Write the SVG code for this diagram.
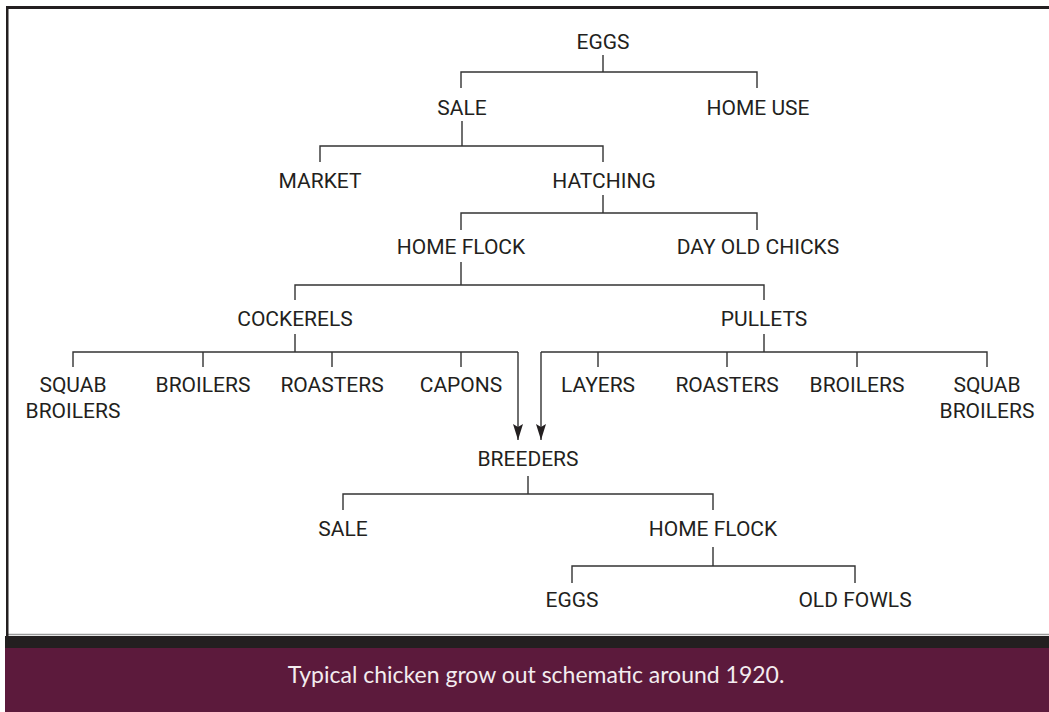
<svg xmlns="http://www.w3.org/2000/svg" width="1049" height="712" viewBox="0 0 1049 712">
<style>
.lbl{font-family:Roboto,"Liberation Sans",Arial,sans-serif;font-size:21px;fill:#231f20;text-anchor:middle}
.ln{stroke:#333;stroke-width:1.4;fill:none}
.cap{font-family:Lato,"Open Sans",sans-serif;font-size:23px;fill:#f3ecef;text-anchor:middle}
</style>
<defs>
<marker id="ah" markerWidth="16" markerHeight="10" refX="16" refY="5" orient="auto" markerUnits="userSpaceOnUse" viewBox="0 0 16 10">
<path d="M0,0 L3,5 L0,10 L16,5 Z" fill="#231f20"/>
</marker>
</defs>
<rect x="0" y="0" width="1049" height="712" fill="#fff"/>
<g id="frame">
<rect x="5" y="636" width="1044" height="12" fill="#231f20"/>
<rect x="5" y="648" width="1044" height="64" fill="#5c1a3c"/>
<line x1="8" y1="634.5" x2="1049" y2="634.5" stroke="#9a9a9a" stroke-width="1.5"/>
<rect x="6" y="6" width="1043" height="3" fill="#231f20"/>
<rect x="6" y="6" width="2.5" height="638" fill="#231f20"/>
</g>
<g id="connectors">
<path class="ln" d="M603,55 V72 M461,88 V72 H757 V88"/>
<path class="ln" d="M462,121 V146 M320,162 V146 H603 V162"/>
<path class="ln" d="M603,195 V213 M461,230 V213 H757 V230"/>
<path class="ln" d="M461,262 V285 M295,300 V285 H764 V300"/>
<path class="ln" d="M295,334 V352 M73,367 V352 H518 M203,352 V367 M332,352 V367 M461,352 V367"/>
<path class="ln" d="M518,352 V440" marker-end="url(#ah)"/>
<path class="ln" d="M764,334 V352 M987,367 V352 H541 M598,352 V367 M727,352 V367 M857,352 V367"/>
<path class="ln" d="M541,352 V440" marker-end="url(#ah)"/>
<path class="ln" d="M528,476 V494 M343,510 V494 H713 V510"/>
<path class="ln" d="M713,547 V566 M572,583 V566 H855 V583"/>
</g>
<g id="n-eggs"><text class="lbl" x="603" y="49">EGGS</text></g>
<g id="n-sale"><text class="lbl" x="462" y="115">SALE</text></g>
<g id="n-homeuse"><text class="lbl" x="758" y="115">HOME USE</text></g>
<g id="n-market"><text class="lbl" x="320" y="188">MARKET</text></g>
<g id="n-hatching"><text class="lbl" x="604" y="188">HATCHING</text></g>
<g id="n-homeflock"><text class="lbl" x="461" y="254">HOME FLOCK</text></g>
<g id="n-dayold"><text class="lbl" x="758" y="254">DAY OLD CHICKS</text></g>
<g id="n-cockerels"><text class="lbl" x="295" y="326">COCKERELS</text></g>
<g id="n-pullets"><text class="lbl" x="764" y="326">PULLETS</text></g>
<g id="n-squab1"><text class="lbl" x="73" y="392">SQUAB</text><text class="lbl" x="73" y="418">BROILERS</text></g>
<g id="n-broilers1"><text class="lbl" x="203" y="392">BROILERS</text></g>
<g id="n-roasters1"><text class="lbl" x="332" y="392">ROASTERS</text></g>
<g id="n-capons"><text class="lbl" x="461" y="392">CAPONS</text></g>
<g id="n-layers"><text class="lbl" x="598" y="392">LAYERS</text></g>
<g id="n-roasters2"><text class="lbl" x="727" y="392">ROASTERS</text></g>
<g id="n-broilers2"><text class="lbl" x="857" y="392">BROILERS</text></g>
<g id="n-squab2"><text class="lbl" x="987" y="392">SQUAB</text><text class="lbl" x="987" y="418">BROILERS</text></g>
<g id="n-breeders"><text class="lbl" x="528" y="466">BREEDERS</text></g>
<g id="n-sale2"><text class="lbl" x="343" y="536">SALE</text></g>
<g id="n-homeflock2"><text class="lbl" x="713" y="536">HOME FLOCK</text></g>
<g id="n-eggs2"><text class="lbl" x="572" y="607">EGGS</text></g>
<g id="n-oldfowls"><text class="lbl" x="855" y="607">OLD FOWLS</text></g>
<g id="caption"><text class="cap" x="536" y="683">Typical chicken grow out schematic around 1920.</text></g>
</svg>
